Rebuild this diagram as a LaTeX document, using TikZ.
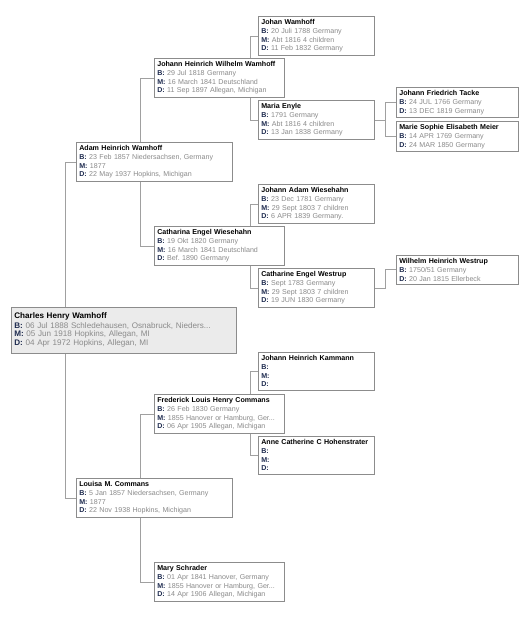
\documentclass[tikz,border=0pt]{standalone}
\usepackage{fontspec}
\setmainfont{Liberation Sans}
\usetikzlibrary{backgrounds}
\frenchspacing

\definecolor{boxline}{HTML}{8C8C8C}
\definecolor{linkline}{HTML}{A0A0A0}
\definecolor{rootfill}{HTML}{EBEBEB}
\definecolor{lbl}{HTML}{1E2B4F}
\definecolor{val}{HTML}{8A8A8A}
\newcommand{\evt}[2]{{\color{lbl}\bfseries #1:} {\color{val}#2}}

\begin{document}
\begin{tikzpicture}[x=1pt,y=-1pt,
    person/.style={draw=boxline,fill=white,anchor=north west,align=left,
      inner xsep=3pt,inner ysep=3pt,line width=0.6pt,
      font=\fontsize{7.1}{8.8}\selectfont},
    rootp/.style={person,fill=rootfill,text width=218.5pt,inner ysep=5.6pt,
      font=\fontsize{8.1}{8.6}\selectfont},
    gen1/.style={person,text width=149.5pt},
    gen2/.style={person,text width=123.5pt},
    gen3/.style={person,text width=109.5pt},
    gen4/.style={person,text width=115.5pt},
    link/.style={draw=linkline,line width=0.6pt}]
    \useasboundingbox (0,0) rectangle (525,620);

    % root
    \node[rootp] (charles) at (11,307) {\textbf{Charles Henry Wamhoff}\\[1pt]
        \evt{B}{06 Jul 1888 Schledehausen, Osnabruck, Nieders...}\\
        \evt{M}{05 Jun 1918 Hopkins, Allegan, MI}\\
        \evt{D}{04 Apr 1972 Hopkins, Allegan, MI}};

    % parents
    \node[gen1] (adam) at (76,142) {\textbf{Adam Heinrich Wamhoff}\\
        \evt{B}{23 Feb 1857 Niedersachsen, Germany}\\
        \evt{M}{1877}\\
        \evt{D}{22 May 1937 Hopkins, Michigan}};
    \node[gen1] (louisa) at (76,478) {\textbf{Louisa M. Commans}\\
        \evt{B}{5 Jan 1857 Niedersachsen, Germany}\\
        \evt{M}{1877}\\
        \evt{D}{22 Nov 1938 Hopkins, Michigan}};

    % grandparents
    \node[gen2] (jhwilhelm) at (154,58) {\textbf{Johann Heinrich Wilhelm Wamhoff}\\
        \evt{B}{29 Jul 1818 Germany}\\
        \evt{M}{16 March 1841 Deutschland}\\
        \evt{D}{11 Sep 1897 Allegan, Michigan}};
    \node[gen2] (catharina) at (154,226) {\textbf{Catharina Engel Wiesehahn}\\
        \evt{B}{19 Okt 1820 Germany}\\
        \evt{M}{16 March 1841 Deutschland}\\
        \evt{D}{Bef. 1890 Germany}};
    \node[gen2] (frederick) at (154,394) {\textbf{Frederick Louis Henry Commans}\\
        \evt{B}{26 Feb 1830 Germany}\\
        \evt{M}{1855 Hanover or Hamburg, Ger...}\\
        \evt{D}{06 Apr 1905 Allegan, Michigan}};
    \node[gen2] (mary) at (154,562) {\textbf{Mary Schrader}\\
        \evt{B}{01 Apr 1841 Hanover, Germany}\\
        \evt{M}{1855 Hanover or Hamburg, Ger...}\\
        \evt{D}{14 Apr 1906 Allegan, Michigan}};

    % great-grandparents
    \node[gen3] (johan) at (258,16) {\textbf{Johan Wamhoff}\\
        \evt{B}{20 Juli 1788 Germany}\\
        \evt{M}{Abt 1816 4 children}\\
        \evt{D}{11 Feb 1832 Germany}};
    \node[gen3] (maria) at (258,100) {\textbf{Maria Enyle}\\
        \evt{B}{1791 Germany}\\
        \evt{M}{Abt 1816 4 children}\\
        \evt{D}{13 Jan 1838 Germany}};
    \node[gen3] (jadam) at (258,184) {\textbf{Johann Adam Wiesehahn}\\
        \evt{B}{23 Dec 1781 Germany}\\
        \evt{M}{29 Sept 1803 7 children}\\
        \evt{D}{6 APR 1839 Germany.}};
    \node[gen3] (cwestrup) at (258,268) {\textbf{Catharine Engel Westrup}\\
        \evt{B}{Sept 1783 Germany}\\
        \evt{M}{29 Sept 1803 7 children}\\
        \evt{D}{19 JUN 1830 Germany}};
    \node[gen3] (kammann) at (258,352) {\textbf{Johann Heinrich Kammann}\\
        \evt{B}{}\\
        \evt{M}{}\\
        \evt{D}{}};
    \node[gen3] (anne) at (258,436) {\textbf{Anne Catherine C Hohenstrater}\\
        \evt{B}{}\\
        \evt{M}{}\\
        \evt{D}{}};

    % 2x great-grandparents
    \node[gen4] (tacke) at (396,87) {\textbf{Johann Friedrich Tacke}\\
        \evt{B}{24 JUL 1766 Germany}\\
        \evt{D}{13 DEC 1819 Germany}};
    \node[gen4] (meier) at (396,121) {\textbf{Marie Sophie Elisabeth Meier}\\
        \evt{B}{14 APR 1769 Germany}\\
        \evt{D}{24 MAR 1850 Germany}};
    \node[gen4] (wwestrup) at (396,255) {\textbf{Wilhelm Heinrich Westrup}\\
        \evt{B}{1750/51 Germany}\\
        \evt{D}{20 Jan 1815 Ellerbeck}};

    \begin{scope}[on background layer]
    \draw[link] (adam.west)      -- ++(-11,0) |- (louisa.west);
    \draw[link] (jhwilhelm.west) -- ++(-14,0) |- (catharina.west);
    \draw[link] (frederick.west) -- ++(-14,0) |- (mary.west);
    \draw[link] (johan.west)     -- ++(-8,0)  |- (maria.west);
    \draw[link] (jadam.west)     -- ++(-8,0)  |- (cwestrup.west);
    \draw[link] (kammann.west)   -- ++(-8,0)  |- (anne.west);
    \draw[link] (tacke.west)     -- ++(-11,0) |- (meier.west);
    \draw[link] (maria.east)     -- ++(11,0);
    \draw[link] (cwestrup.east)  -- ++(11,0)  |- (wwestrup.west);
    \end{scope}
\end{tikzpicture}
\end{document}
